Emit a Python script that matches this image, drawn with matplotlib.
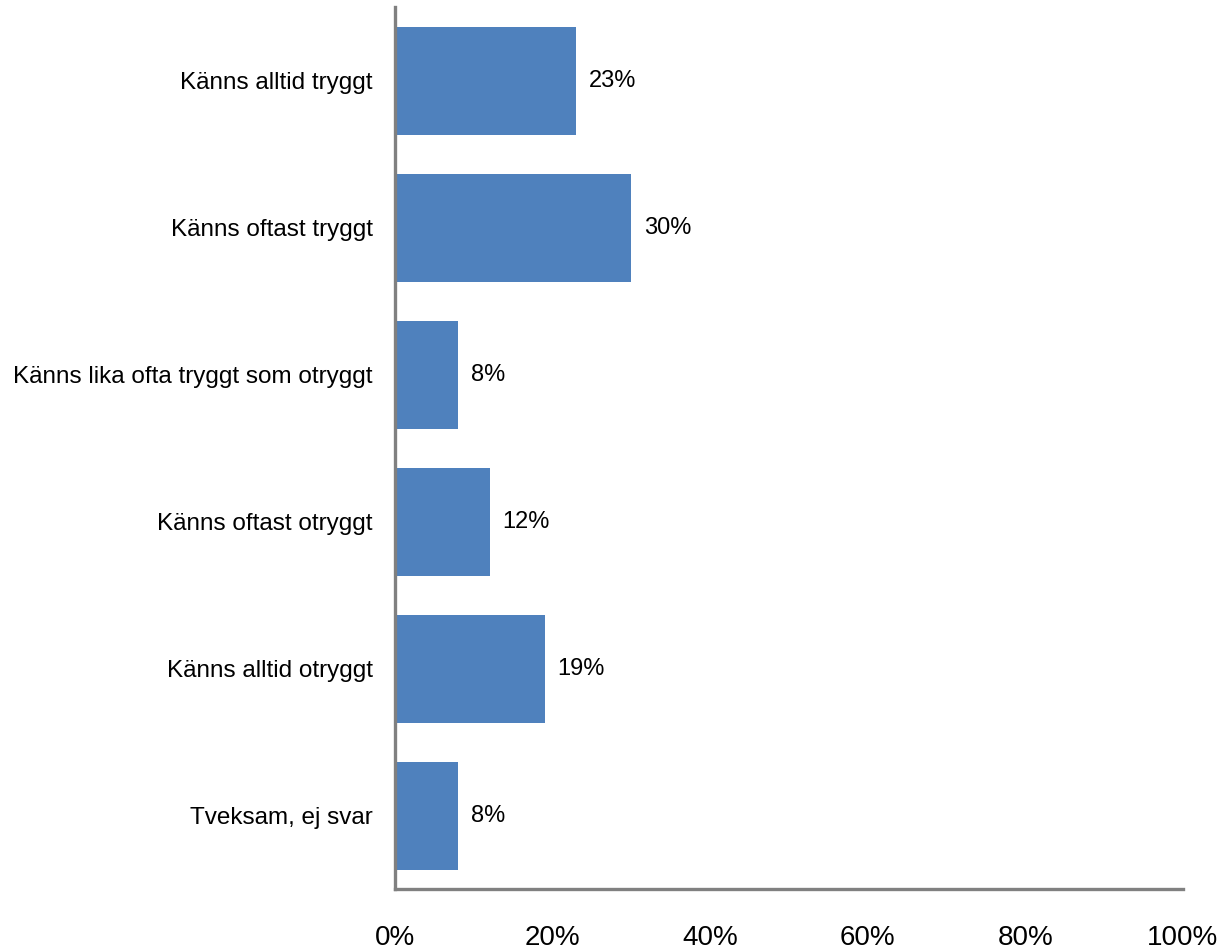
import matplotlib

matplotlib.use("Agg")
import matplotlib.pyplot as plt

# Data
categories = [
    "Känns alltid tryggt",
    "Känns oftast tryggt",
    "Känns lika ofta tryggt som otryggt",
    "Känns oftast otryggt",
    "Känns alltid otryggt",
    "Tveksam, ej svar",
]
values = [23, 30, 8, 12, 19, 8]
x_ticks = [0, 20, 40, 60, 80, 100]

BAR_COLOUR = "#4F81BD"
AXIS_COLOUR = "#808080"

plt.rcParams["font.family"] = ["Liberation Sans", "DejaVu Sans"]

fig = plt.figure(figsize=(12.24, 9.49), dpi=100)
ax = fig.add_axes([0.3227, 0.0632, 0.9665 - 0.3227, 0.9926 - 0.0632])

ypos = list(range(len(categories)))
ax.barh(ypos, values, height=0.735, color=BAR_COLOUR, zorder=2)

for y, v in zip(ypos, values):
    ax.text(v + 1.6, y, f"{v}%", va="center", ha="left", fontsize=17, color="black")

ax.set_xlim(0, 100)
ax.set_ylim(len(categories) - 0.5, -0.5)
ax.set_yticks(ypos)
ax.set_yticklabels(categories, fontsize=17.5)
ax.set_xticks(x_ticks)
ax.set_xticklabels([f"{t}%" for t in x_ticks], fontsize=20)
ax.tick_params(axis="y", length=0, pad=16)
ax.tick_params(axis="x", length=0, pad=26)

for side in ("top", "right"):
    ax.spines[side].set_visible(False)
for side in ("left", "bottom"):
    ax.spines[side].set_color(AXIS_COLOUR)
    ax.spines[side].set_linewidth(2.4)

fig.savefig("out.png", dpi=100)
